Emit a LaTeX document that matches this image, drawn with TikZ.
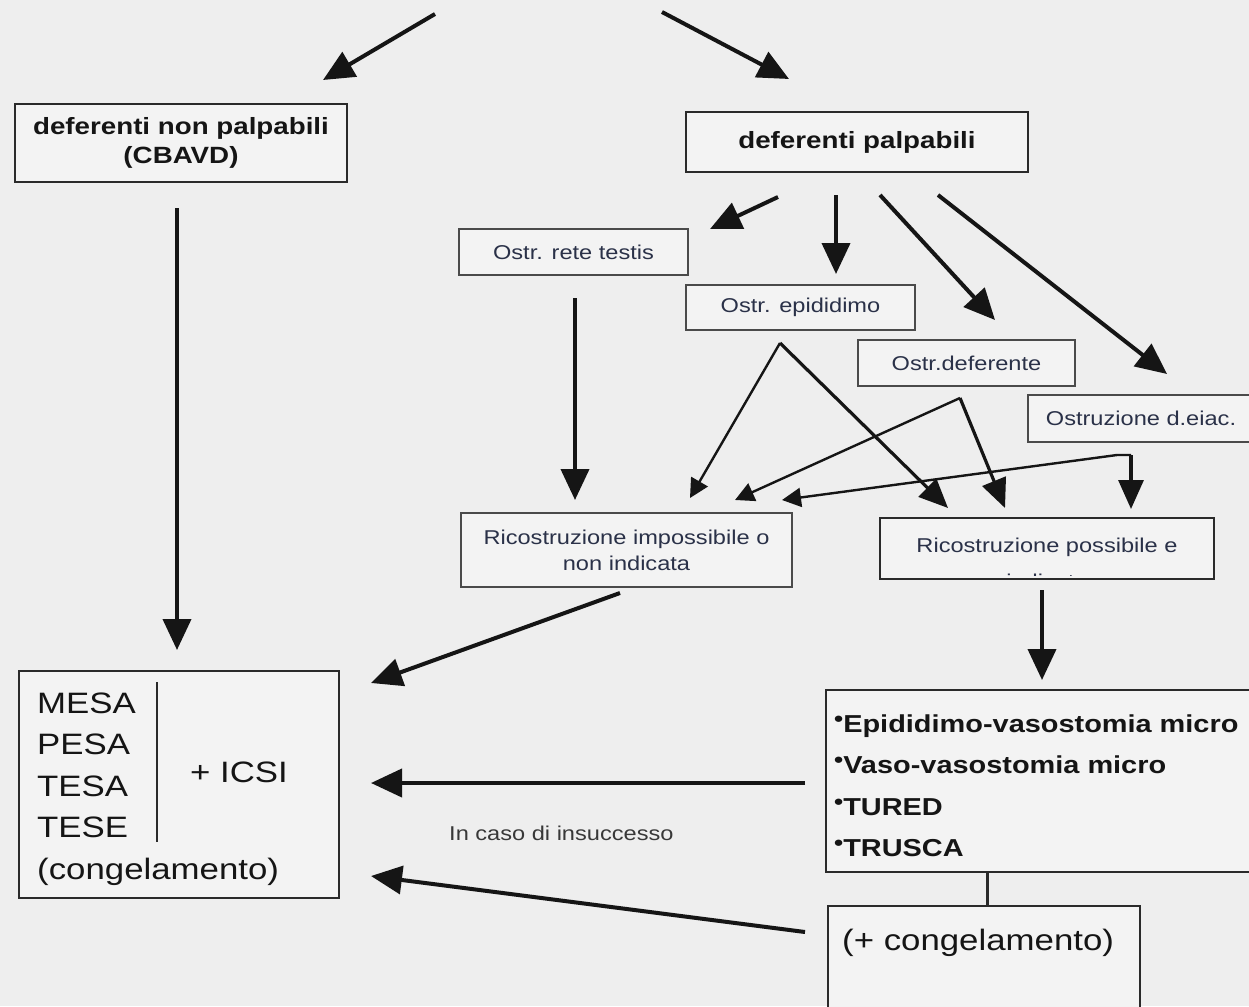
\documentclass[tikz,border=0pt]{standalone}
\usepackage{fontspec}
\setmainfont{Liberation Sans}[FakeStretch=1.18]
\usetikzlibrary{arrows.meta}

\definecolor{paper}{HTML}{EEEEEE}
\definecolor{boxfill}{HTML}{F3F3F3}
\definecolor{edge}{HTML}{2A2A2A}
\definecolor{ink}{HTML}{151515}
\definecolor{navy}{HTML}{2A3148}

\newcommand{\fs}[2]{\fontsize{#1}{#2}\selectfont}
\newcommand{\dotmark}{{\fs{22}{22}\raisebox{6pt}{•}}}

\tikzset{
  bigbox/.style={draw=edge, line width=2.4pt, fill=boxfill, inner sep=0pt,
    font=\bfseries\fs{23.5}{29}, text=ink, align=center},
  smallbox/.style={draw=edge!85, line width=1.7pt, fill=boxfill, inner sep=0pt,
    font=\fs{20}{26}, text=navy, align=center},
  plainbox/.style={draw=edge, line width=2pt, fill=boxfill, inner sep=0pt},
  bigtext/.style={inner sep=0pt, anchor=base west, font=\fs{29.5}{35}, text=ink},
  proctext/.style={inner sep=0pt, anchor=base west, font=\bfseries\fs{24.5}{30}, text=ink},
  arr/.style={draw=ink, line width=4pt, -{Triangle[length=31pt,width=28pt]}},
  midarr/.style={draw=ink, line width=3.2pt, -{Triangle[length=29pt,width=25pt]}},
  thinarr/.style={draw=ink, line width=2.4pt, -{Triangle[length=19pt,width=19pt]}},
}

\begin{document}
\begin{tikzpicture}[x=1pt,y=-1pt]
  \useasboundingbox (0,0) rectangle (1249,1006);
  \clip (0,0) rectangle (1249,1006);
  \fill[paper] (0,0) rectangle (1249,1006);

  % boxes of the two upper branches
  \node[bigbox, minimum width=332pt, minimum height=78pt] (nonpalp) at (181,143)
    {deferenti non palpabili\\(CBAVD)};
  \node[bigbox, minimum width=342pt, minimum height=60pt] (palp) at (857,142)
    {deferenti palpabili};

  % obstruction sites
  \node[smallbox, minimum width=229pt, minimum height=46pt] (rete) at (573.5,252) {Ostr. rete testis};
  \node[smallbox, minimum width=229pt, minimum height=45pt] (epid) at (800.5,307.5) {Ostr. epididimo};
  \node[smallbox, minimum width=217pt, minimum height=46pt] (defer) at (966.5,363) {Ostr.deferente};
  \node[smallbox, minimum width=226pt, minimum height=47pt] (eiac) at (1141,418.5) {Ostruzione d.eiac.};

  % reconstruction outcomes
  \node[smallbox, minimum width=331pt, minimum height=74pt] (imposs) at (626.5,550)
    {Ricostruzione impossibile o\\non indicata};
  \node[smallbox, minimum width=332pt, minimum height=59pt, draw=none] (poss) at (1047,548.5) {};
  \node[smallbox, fill=none, draw=none, anchor=base] (possA) at (1047,552) {Ricostruzione possibile e};
  \begin{scope}
    \clip (880,520) rectangle (1214,575);
    \node[smallbox, fill=none, draw=none, anchor=base] (possB) at (1047,588) {indicata};
  \end{scope}
  \draw[edge, line width=2.4pt] (poss.north west) rectangle (poss.south east);

  % sperm retrieval box
  \node[plainbox, minimum width=320pt, minimum height=227pt] (mesa) at (179,784.5) {};
  \node[bigtext] (m1) at (37,713) {MESA};
  \node[bigtext] (m2) at (37,754.5) {PESA};
  \node[bigtext] (m3) at (37,796) {TESA};
  \node[bigtext] (m4) at (37,837.5) {TESE};
  \node[bigtext] (m5) at (37,879) {(congelamento)};
  \node[bigtext] (icsi) at (190,782) {+ ICSI};
  \coordinate (divtop) at (157,682);
  \coordinate (divbot) at (157,842);
  \draw[edge, line width=2pt] (divtop) -- (divbot);

  % microsurgical procedures
  \node[plainbox, minimum width=444pt, minimum height=182pt] (proc) at (1048,781) {};
  \node[proctext] (p1) at (834,732) {\dotmark Epididimo-vasostomia micro};
  \node[proctext] (p2) at (834,773.5) {\dotmark Vaso-vasostomia micro};
  \node[proctext] (p3) at (834,815) {\dotmark TURED};
  \node[proctext] (p4) at (834,856.5) {\dotmark TRUSCA};

  \node[plainbox, minimum width=312pt, minimum height=124pt] (cong) at (984,968) {};
  \node[bigtext] (congtext) at (842,950) {(+ congelamento)};
  \coordinate (link) at (987,890);
  \draw[edge, line width=3pt] (proc.south -| link) -- (cong.north -| link);

  \node[inner sep=0pt, anchor=base west, font=\fs{20}{24}, text=ink!85] (fail) at (449,840)
    {In caso di insuccesso};

  % connector end points
  \coordinate (t1s) at (435,14);   \coordinate (t1e) at (323,80);
  \coordinate (t2s) at (662,12);   \coordinate (t2e) at (789,79);
  \coordinate (l1s) at (177,208);  \coordinate (l1e) at (177,650);
  \coordinate (r1s) at (778,197);  \coordinate (r1e) at (710,229);
  \coordinate (r2s) at (836,195);  \coordinate (r2e) at (836,274);
  \coordinate (r3s) at (880,195);  \coordinate (r3e) at (995,320);
  \coordinate (r4s) at (938,195);  \coordinate (r4e) at (1167,374);
  \coordinate (rts) at (575,298);  \coordinate (rte) at (575,500);
  \coordinate (ep)  at (780,343);
  \coordinate (epL) at (690,498);  \coordinate (epR) at (948,508);
  \coordinate (df)  at (960,398);
  \coordinate (dfL) at (735,500);  \coordinate (dfR) at (1005,508);
  \coordinate (ejA) at (1117,455); \coordinate (ejB) at (1131,455);
  \coordinate (ejL) at (782,500);  \coordinate (ejR) at (1131,509);
  \coordinate (ims) at (620,593);  \coordinate (ime) at (371,683);
  \coordinate (pss) at (1042,590); \coordinate (pse) at (1042,680);
  \coordinate (prs) at (805,783);  \coordinate (pre) at (371,783);
  \coordinate (cgs) at (805,932);  \coordinate (cge) at (371,876);

  % arrows
  \draw[arr] (t1s) -- (t1e);
  \draw[arr] (t2s) -- (t2e);
  \draw[arr] (l1s) -- (l1e);
  \draw[arr] (r1s) -- (r1e);
  \draw[arr] (r2s) -- (r2e);
  \draw[arr] (r3s) -- (r3e);
  \draw[arr] (r4s) -- (r4e);
  \draw[arr] (rts) -- (rte);
  \draw[thinarr] (ep) -- (epL);
  \draw[midarr] (ep) -- (epR);
  \draw[thinarr] (df) -- (dfL);
  \draw[midarr] (df) -- (dfR);
  \draw[thinarr] (ejB) -- (ejA) -- (ejL);
  \draw[midarr] (ejB) -- (ejR);
  \draw[arr] (ims) -- (ime);
  \draw[arr] (pss) -- (pse);
  \draw[arr] (prs) -- (pre);
  \draw[arr] (cgs) -- (cge);
\end{tikzpicture}
\end{document}
